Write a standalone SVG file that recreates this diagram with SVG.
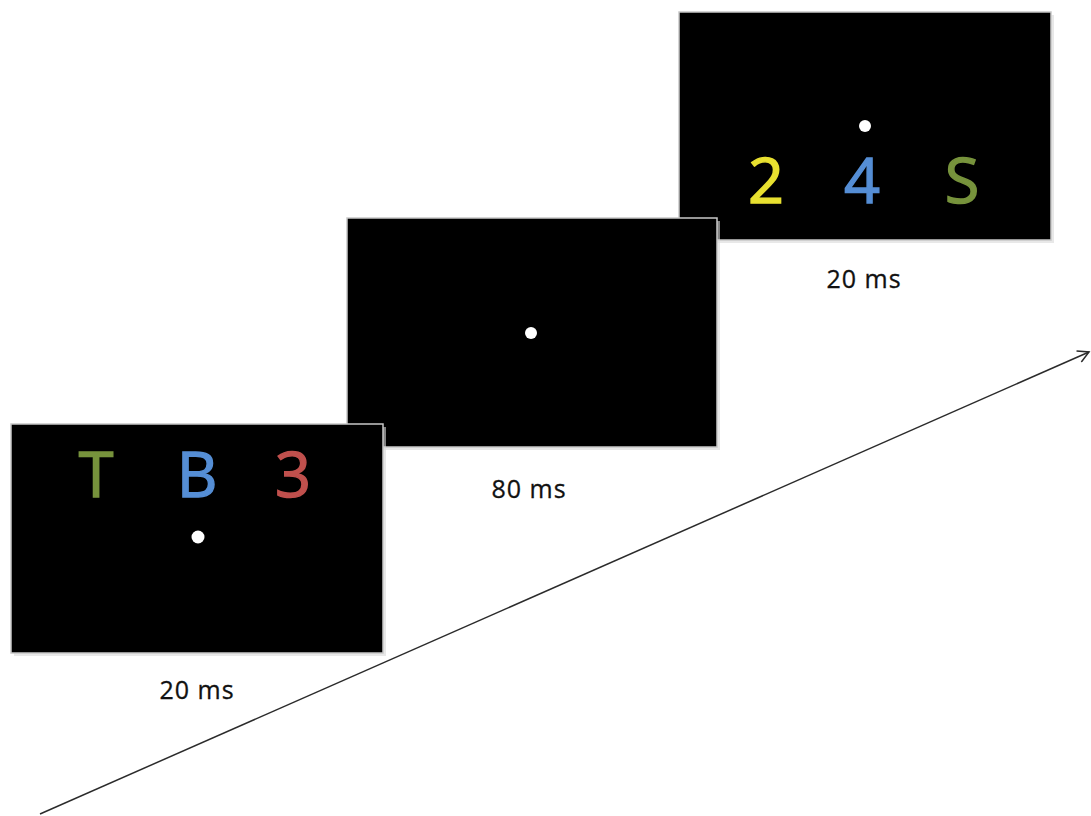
<svg xmlns="http://www.w3.org/2000/svg" width="1091" height="816" viewBox="0 0 1091 816">
  <style>
    .screen { fill: #000000; stroke: #c8c8c8; stroke-width: 1.5; }
    .shadow { fill: #d9d9d9; opacity: 0.6; }
    .dot { fill: #ffffff; }
    .glyph { font-family: "Open Sans", "Liberation Sans", sans-serif; font-size: 63px; text-anchor: middle; stroke-width: 1.4; }
    .label { font-family: "Open Sans", "Liberation Sans", sans-serif; font-size: 25px; fill: #111111; text-anchor: middle; letter-spacing: 1px; stroke: #111111; stroke-width: 0.3; }
    .axis { stroke: #2b2b2b; stroke-width: 1.5; fill: none; }
  </style>
  <defs>
    <marker id="open-head" viewBox="0 0 14 14" refX="12" refY="7" markerWidth="14" markerHeight="14" markerUnits="userSpaceOnUse" orient="auto">
      <path d="M1,1 L12,7 L1,13" fill="none" stroke="#2b2b2b" stroke-width="1.5"/>
    </marker>
  </defs>
  <rect width="1091" height="816" fill="#ffffff"/>

  <!-- time axis -->
  <g id="connectors">
    <line class="axis" x1="40" y1="814" x2="1089" y2="352" marker-end="url(#open-head)"/>
  </g>

  <!-- third screen: fixation with digits/letter below -->
  <g id="screen3">
    <rect class="shadow" x="682" y="15" width="372" height="228"/>
    <rect class="screen" x="679" y="12" width="372" height="228"/>
    <circle class="dot" cx="865" cy="126" r="6"/>
    <text class="glyph" x="766" y="203" fill="#e8e030" stroke="#e8e030">2</text>
    <text class="glyph" x="862" y="203" fill="#558ed5" stroke="#558ed5">4</text>
    <text class="glyph" x="962" y="203" fill="#77933c" stroke="#77933c">S</text>
    <text class="label" x="864" y="288">20 ms</text>
  </g>

  <!-- second screen: fixation only -->
  <g id="screen2">
    <rect class="shadow" x="350" y="221" width="370" height="229"/>
    <rect class="screen" x="347" y="218" width="370" height="229"/>
    <circle class="dot" cx="531" cy="333" r="6"/>
    <text class="label" x="529" y="498">80 ms</text>
  </g>

  <!-- first screen: letters/digit above fixation -->
  <g id="screen1">
    <rect class="shadow" x="14" y="427" width="372" height="229"/>
    <rect class="screen" x="11" y="424" width="372" height="229"/>
    <circle class="dot" cx="198" cy="537" r="6.5"/>
    <text class="glyph" x="96" y="497" fill="#77933c" stroke="#77933c">T</text>
    <text class="glyph" x="197" y="497" fill="#558ed5" stroke="#558ed5">B</text>
    <text class="glyph" x="293" y="497" fill="#c0504d" stroke="#c0504d">3</text>
    <text class="label" x="197" y="699">20 ms</text>
  </g>
</svg>
